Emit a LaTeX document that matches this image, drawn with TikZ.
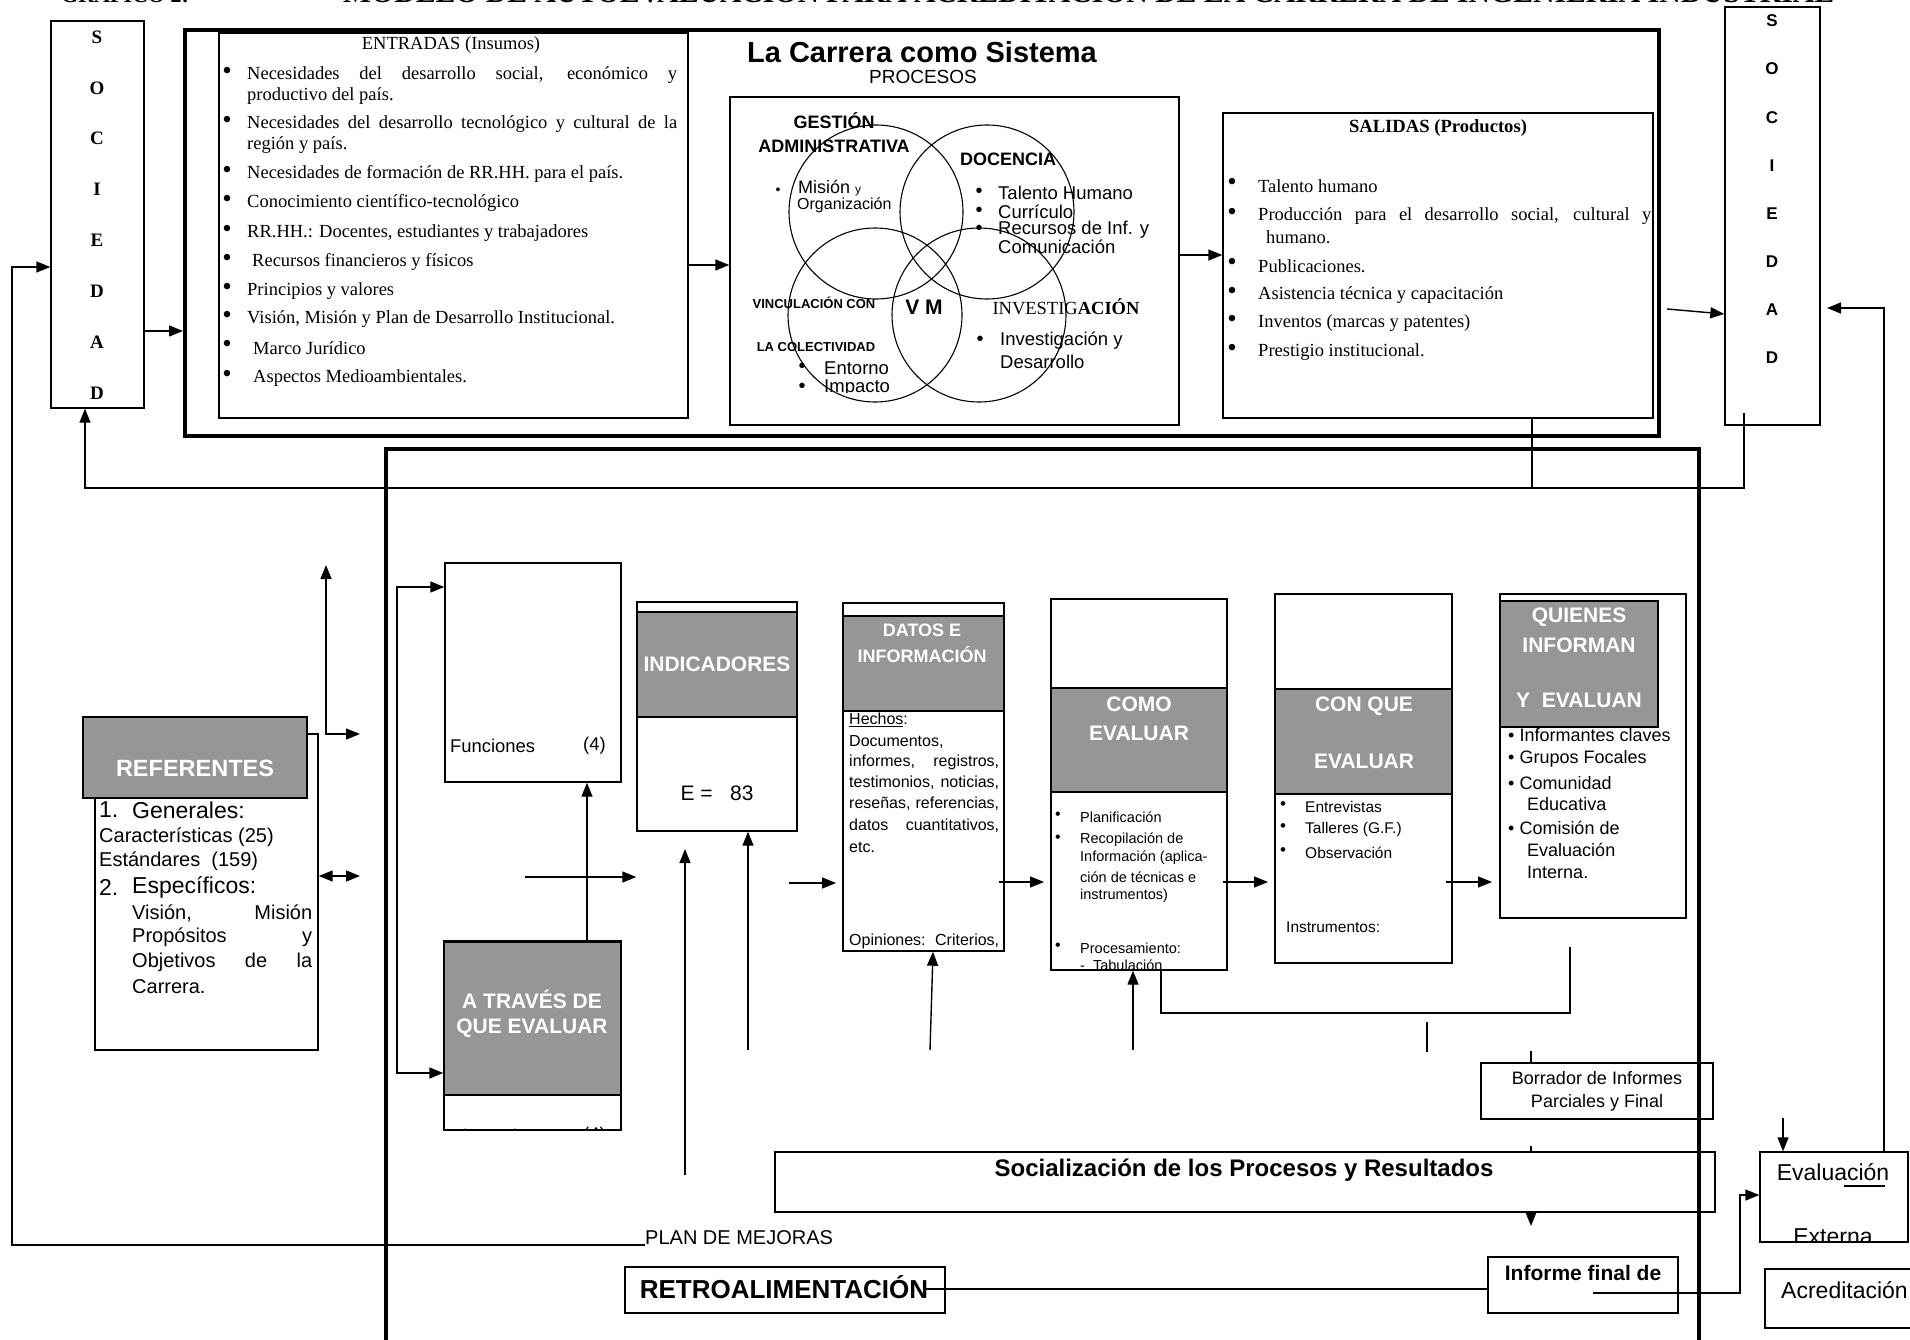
\documentclass[tikz,border=0pt]{standalone}
\usepackage{fontspec}
\setmainfont{Liberation Serif}
\setsansfont{Liberation Sans}
\usetikzlibrary{arrows.meta,fit}
\definecolor{hdrgray}{RGB}{150,150,150}
\newcommand*{\fz}[1]{\fontsize{#1}{#1}\selectfont}
\tikzset{
  box/.style={draw, line width=1.4pt, inner sep=0pt},
  frame/.style={draw, line width=4pt, inner sep=0pt},
  hdr/.style={box, fill=hdrgray},
  txt/.style={inner sep=0pt, anchor=west},
  hdtxt/.style={inner sep=0pt, text=white, font=\sffamily\bfseries\fz{21}},
  bul/.style={inner sep=0pt, font=\fz{27}},
  ln/.style={line width=1.4pt},
  arr/.style={ln, -{Triangle[length=14pt,width=11pt]}},
  arrb/.style={ln, {Triangle[length=14pt,width=11pt]}-{Triangle[length=14pt,width=11pt]}}
}
\begin{document}
\begin{tikzpicture}[x=1pt, y=-1pt]
  \useasboundingbox (0,0) rectangle (1910,1340);
  \fill[white] (0,0) rectangle (1910,1340);

  % title, cut at the top edge
  \node[inner sep=0, anchor=base west, font=\bfseries\fz{22}] (ttl1) at (61,3) {GRÁFICO 2:};
  \node[inner sep=0, anchor=base west, font=\bfseries\fz{29.7}] (ttl2) at (343,3)
    {MODELO DE AUTOEVALUACIÓN PARA ACREDITACIÓN DE LA CARRERA DE INGENIERÍA INDUSTRIAL};

  % sociedad
  \node[box, fit={(51,21) (144,408)}] (socL) {};
  \foreach \l [count=\i] in {S,O,C,I,E,D,A,D}
    \node[inner sep=0, font=\bfseries\fz{19}] (sl\i) at (97,{37+50.9*(\i-1)}) {\l};
  \node[box, fit={(1725,7) (1820,425)}] (socR) {};
  \foreach \l [count=\i] in {S,O,C,I,E,D,A,D}
    \node[inner sep=0, font=\sffamily\bfseries\fz{17}] (sr\i) at (1772,{21+48.1*(\i-1)}) {\l};

  % la carrera como sistema
  \node[frame, fit={(185,30) (1659,436)}] (carrera) {};
  \node[box, fit={(219,33) (688,418)}] (ent) {};
  \node[inner sep=0, font=\fz{18.5}] (entt) at (451,45) {ENTRADAS (Insumos)};
  \foreach \y [count=\i] in {75,124,174,203,233,262,291,319,348,378}
    \node[bul] (eb\i) at (227,\y-2) {\textbullet};
  \foreach \x/\y/\t [count=\i] in {
      247/75/{\makebox[430pt][s]{Necesidades del desarrollo social, económico y}},
      247/96/{productivo del país.},
      247/124/{\makebox[430pt][s]{Necesidades del desarrollo tecnológico y cultural de la}},
      247/145/{región y país.},
      247/174/{Necesidades de formación de RR.HH. para el país.},
      247/203/{Conocimiento científico-tecnológico},
      247/233/{RR.HH.: Docentes, estudiantes y trabajadores},
      252/262/{Recursos financieros y físicos},
      247/291/{Principios y valores},
      247/319/{Visión, Misión y Plan de Desarrollo Institucional.},
      253/348/{Marco Jurídico},
      253/378/{Aspectos Medioambientales.}}
    \node[txt, font=\fz{18.5}] (et\i) at (\x,\y) {\t};

  \node[inner sep=0, font=\sffamily\bfseries\fz{29}] (sistema) at (922,52) {La Carrera como Sistema};
  \node[inner sep=0, font=\sffamily\fz{19}] (proct) at (923,77) {PROCESOS};
  \node[box, fit={(730,97) (1179,425)}] (proc) {};
  \foreach \cx/\cy [count=\i] in {876/212, 987/212, 875/315, 979/315}
    \draw[line width=1.1pt] (\cx,\cy) circle (87);
  \node[inner sep=0, font=\sffamily\bfseries\fz{18}] (ges1) at (834,121) {GESTIÓN};
  \node[inner sep=0, font=\sffamily\bfseries\fz{18}] (ges2) at (834,146) {ADMINISTRATIVA};
  \node[inner sep=0, font=\sffamily\fz{14}] (gb) at (778,191) {\textbullet};
  \node[txt, font=\sffamily\fz{18}] (gt1) at (798,188) {Misión {\fz{12}y}};
  \node[txt, font=\sffamily\fz{16}] (gt2) at (797,205) {Organización};
  \node[inner sep=0, font=\sffamily\bfseries\fz{18}] (doc) at (1008,159) {DOCENCIA};
  \foreach \y/\b/\t [count=\i] in {193/\textbullet/{Talento Humano}, 212/\textbullet/{Currículo},
      230/\textbullet/{Recursos de Inf. y}, 247/{}/{Comunicación}} {
    \node[inner sep=0, font=\sffamily\fz{20}] (db\i) at (979,\y) {\b};
    \node[txt, font=\sffamily\fz{18.5}] (dt\i) at (998,\y) {\t};
  }
  \node[inner sep=0, font=\sffamily\bfseries\fz{13}] (vin1) at (814,303) {VINCULACIÓN CON};
  \node[inner sep=0, font=\sffamily\bfseries\fz{13}] (vin2) at (816,347) {LA COLECTIVIDAD};
  \node[inner sep=0, font=\sffamily\bfseries\fz{21}] (vm) at (924,307) {V M};
  \node[inner sep=0, font=\fz{18.5}] (inv) at (1066,307) {INVESTIG\textbf{ACIÓN}};
  \node[inner sep=0, font=\sffamily\fz{20}] (ib) at (980,341) {\textbullet};
  \node[txt, font=\sffamily\fz{18.5}] (it1) at (1000,341) {Investigación y};
  \node[txt, font=\sffamily\fz{18.5}] (it2) at (1000,362) {Desarrollo};
  \begin{scope}
    \clip (730,97) rectangle (1179,392);
    \foreach \y/\t [count=\i] in {368/Entorno, 388/Impacto} {
      \node[inner sep=0, font=\sffamily\fz{20}] (vb\i) at (802,\y) {\textbullet};
      \node[txt, font=\sffamily\fz{18.5}] (vt\i) at (824,\y) {\t};
    }
  \end{scope}

  \node[box, fit={(1223,113) (1653,418)}] (sal) {};
  \node[inner sep=0, font=\bfseries\fz{18.6}] (salt) at (1438,128) {SALIDAS (Productos)};
  \foreach \y [count=\i] in {186,216,266,295,323,352}
    \node[bul] (sb\i) at (1232,\y-2) {\textbullet};
  \foreach \x/\y/\t [count=\i] in {
      1258/186/{Talento humano},
      1258/216/{\makebox[393pt][s]{Producción para el desarrollo social, cultural y}},
      1266/237/{humano.},
      1258/266/{Publicaciones.},
      1258/295/{Asistencia técnica y capacitación},
      1258/323/{Inventos (marcas y patentes)},
      1258/352/{Prestigio institucional.}}
    \node[txt, font=\fz{18.5}] (st\i) at (\x,\y) {\t};

  % proceso de evaluacion
  \node[frame, fit={(386,449) (1699,1380)}] (evalbox) {};

  \node[box, fit={(95,734) (318,1050)}] (refbox) {};
  \node[hdr, fit={(83,717) (307,798)}] (refhd) {};
  \node[hdtxt, font=\sffamily\bfseries\fz{23.5}] (reft) at (195,768) {REFERENTES};
  \foreach \x/\y/\s/\t [count=\i] in {
      99/810/23/{1.}, 132/810/23/{Generales:},
      99/837/20/{Características (25)}, 99/861/20/{Estándares\ \ (159)},
      99/887/23/{2.}, 132/887/23/{Específicos:},
      132/913/20/{\makebox[180pt][s]{Visión, Misión}},
      132/937/20/{\makebox[180pt][s]{Propósitos y}},
      132/962/20/{\makebox[180pt][s]{Objetivos de la}},
      132/987/20/{Carrera.}}
    \node[txt, font=\sffamily\fz{\s}] (rt\i) at (\x,\y) {\t};

  \node[box, fit={(445,563) (621,782)}] (fun) {};
  \node[txt, font=\sffamily\fz{18.4}] (funt) at (450,746) {Funciones};
  \node[txt, font=\sffamily\fz{18.4}] (funn) at (583,746) {(4)};
  \node[box, fit={(444,942) (621,1130)}] (atrw) {};
  \node[hdr, fit={(444,942) (621,1095)}] (atr) {};
  \draw[line width=3pt] (atr.north west) -- (atr.north east);
  \node[hdtxt] (atr1) at (532,999) {A TRAVÉS DE};
  \node[hdtxt] (atr2) at (532,1028) {QUE EVALUAR};
  \begin{scope}
    \clip (444,1095) rectangle (621,1129);
    \node[txt, font=\sffamily\fz{18.4}] (dim1) at (450,1136) {Dimensiones};
    \node[txt, font=\sffamily\fz{18.4}] (dim2) at (583,1136) {(4)};
  \end{scope}

  \node[box, fit={(637,602) (797,831)}] (indw) {};
  \node[hdr, fit={(637,612) (797,717)}] (indh) {};
  \node[hdtxt] (indt) at (717,664) {INDICADORES};
  \node[inner sep=0, font=\sffamily\fz{21}] (inde) at (717,793) {E =\ \ \ 83};

  \node[box, fit={(843,603) (1004,951)}] (datw) {};
  \node[hdr, fit={(843,616) (1004,711)}] (dath) {};
  \node[hdtxt, font=\sffamily\bfseries\fz{18}] (dat1) at (922,630) {DATOS E};
  \node[hdtxt, font=\sffamily\bfseries\fz{18}] (dat2) at (922,655) {INFORMACIÓN};
  \foreach \y/\t [count=\i] in {
      720/{\underline{Hechos}:}, 742/{Documentos,},
      762/{\makebox[150pt][s]{informes, registros,}},
      783/{\makebox[150pt][s]{testimonios, noticias,}},
      804/{\makebox[150pt][s]{reseñas, referencias,}},
      826/{\makebox[150pt][s]{datos cuantitativos,}},
      847/{etc.},
      941/{\makebox[150pt][s]{Opiniones: Criterios,}}}
    \node[txt, font=\sffamily\fz{16}] (dt\i) at (849,\y) {\t};

  \node[box, fit={(1051,599) (1227,970)}] (comw) {};
  \node[hdr, fit={(1051,688) (1227,792)}] (comh) {};
  \node[hdtxt] (com1) at (1139,704) {COMO};
  \node[hdtxt] (com2) at (1139,733) {EVALUAR};
  \begin{scope}
    \clip (1051,599) rectangle (1227,970);
    \foreach \y [count=\i] in {817,840,948}
      \node[inner sep=0, font=\sffamily\fz{16}] (cb\i) at (1058,\y-1) {\textbullet};
    \foreach \y/\t [count=\i] in {817/{Planificación}, 840/{Recopilación de},
        858/{Información (aplica-}, 877/{ción de técnicas e}, 896/{instrumentos)},
        948/{Procesamiento:}, 965/{-\ \ Tabulación}}
      \node[txt, font=\sffamily\fz{14.5}] (ct\i) at (1080,\y) {\t};
  \end{scope}

  \node[box, fit={(1275,594) (1452,963)}] (conw) {};
  \node[hdr, fit={(1275,689) (1452,794)}] (conh) {};
  \node[hdtxt] (con1) at (1364,706) {CON QUE};
  \node[hdtxt] (con2) at (1364,761) {EVALUAR};
  \foreach \y/\t [count=\i] in {807/Entrevistas, 829/{Talleres (G.F.)}, 853/Observación} {
    \node[inner sep=0, font=\sffamily\fz{17}] (nb\i) at (1283,\y-1) {\textbullet};
    \node[txt, font=\sffamily\fz{15.5}] (nt\i) at (1305,\y) {\t};
  }
  \node[txt, font=\sffamily\fz{15.5}] (instr) at (1286,927) {Instrumentos:};

  \node[box, fit={(1500,594) (1686,918)}] (quiw) {};
  \foreach \x/\y/\t [count=\i] in {
      1508/735/{\textbullet\ Informantes claves}, 1508/759/{\textbullet\ Grupos Focales},
      1508/783/{\textbullet\ Comunidad}, 1527/804/{Educativa},
      1508/828/{\textbullet\ Comisión de}, 1527/850/{Evaluación}, 1527/872/{Interna.}}
    \node[txt, font=\sffamily\fz{18}] (qt\i) at (\x,\y) {\t};
  \node[hdr, fit={(1500,601) (1658,727)}] (quih) {};
  \node[hdtxt] (qui1) at (1579,617) {QUIENES};
  \node[hdtxt] (qui2) at (1579,645) {INFORMAN};
  \node[hdtxt] (qui3) at (1579,700) {Y\ \ EVALUAN};

  \node[box, fit={(1481,1063) (1713,1119)}] (bor) {};
  \node[inner sep=0, font=\sffamily\fz{18}] (bor1) at (1597,1078) {Borrador de Informes};
  \node[inner sep=0, font=\sffamily\fz{18}] (bor2) at (1597,1103) {Parciales y Final};

  \node[box, fit={(775,1152) (1715,1212)}] (soc) {};
  \node[inner sep=0, font=\sffamily\bfseries\fz{24}] (soct) at (1244,1170)
    {Socialización de los Procesos y Resultados};

  \node[box, fit={(1760,1152) (1908,1242)}] (evx) {};
  \node[inner sep=0, font=\sffamily\fz{23}] (evx1) at (1833,1172) {Evaluación};
  \begin{scope}
    \clip (1760,1152) rectangle (1908,1241);
    \node[inner sep=0, font=\sffamily\fz{23}] (evx2) at (1833,1237) {Externa};
  \end{scope}
  \node[box, fit={(1765,1269) (1930,1328)}] (acr) {};
  \node[txt, font=\sffamily\fz{23}] (acrt) at (1781,1290) {Acreditación};

  \node[box, fit={(1488,1257) (1678,1313)}] (inf) {};
  \node[inner sep=0, font=\sffamily\bfseries\fz{21}] (inft) at (1583,1273) {Informe final de};
  \node[box, fit={(625,1267) (945,1313)}] (retro) {};
  \node[inner sep=0, font=\sffamily\bfseries\fz{26}] (retrot) at (784,1287) {RETROALIMENTACIÓN};
  \node[txt, font=\sffamily\fz{20}] (plan) at (645,1238) {PLAN DE MEJORAS};

  % free ends
  \foreach \n/\x/\y in {salR/1667/309, fbR/1744/413, upR/326/565, hzI/525/877,
      inL/685/1175, inR/748/1050, dtL/789/883, dtB/930/1050, cmL/999/882, cmB/1133/1050,
      cnL/1223/882, quL/1446/882, brT/1570/947, mid/1427/1022, borT/1531/1051,
      socT/1531/1146, socB/1531/1226, evT/1783/1118, infR/1593/1293, retR/926/1289}
    \coordinate (\n) at (\x,\y);

  % connectors
  \draw[arr] (socL.east |- 0,331) -- (carrera.west |- 0,331);
  \draw[arr] (ent.east |- 0,265) -- (proc.west |- 0,265);
  \draw[arr] (proc.east |- 0,255) -- (sal.west |- 0,255);
  \draw[arr] (salR) -- (socR.west |- 0,314);
  \draw[arr] (evx.north -| 1884,0) |- (1827,308);
  \draw[arr] (fbR) |- (85,488) -- (socL.south -| 85,0);
  \draw[ln] (sal.south -| 1532,0) -- (1532,488);
  \draw[arr] (plan.base west) -| (12,267) -- (socL.west |- 0,267);

  \draw[arrb] (refbox.east |- 0,876) -- (360,876);
  \draw[arrb] (upR) |- (360,734);
  \draw[arrb] (fun.west |- 0,587) -| (397,1073) -- (atrw.west |- 0,1073);
  \draw[arr] (atr.north -| 587,0) -- (fun.south -| 587,0);
  \draw[arr] (hzI) -- (indw.west |- hzI);
  \draw[arr] (inL) -- (685,849);
  \draw[arr] (inR) -- (indw.south -| inR);
  \draw[arr] (dtL) -- (836,883);
  \draw[arr] (dtB) -- (datw.south -| 933,0);
  \draw[arr] (cmL) -- (1044,882);
  \draw[arr] (cmB) -- (comw.south -| cmB);
  \draw[ln] (comw.south -| 1161,0) |- (1570,1013) -- (brT);
  \draw[arr] (cnL) -- (1268,882);
  \draw[arr] (quL) -- (1492,882);
  \draw[ln] (mid) -- (1427,1052);
  \draw[ln] (borT) -- (bor.north -| borT);
  \draw[ln] (socT) -- (soc.north -| socT);
  \draw[arr] (soc.south -| socB) -- (socB);
  \draw[arr] (evT) -- (evx.north -| evT);
  \draw[arr] (infR) -| (1740,1195) -- (evx.west |- 0,1195);
  \draw[ln] (retR) -- (inf.west |- retR);
  \draw[ln] (1844,1186) -- (1885,1186);
\end{tikzpicture}
\end{document}
